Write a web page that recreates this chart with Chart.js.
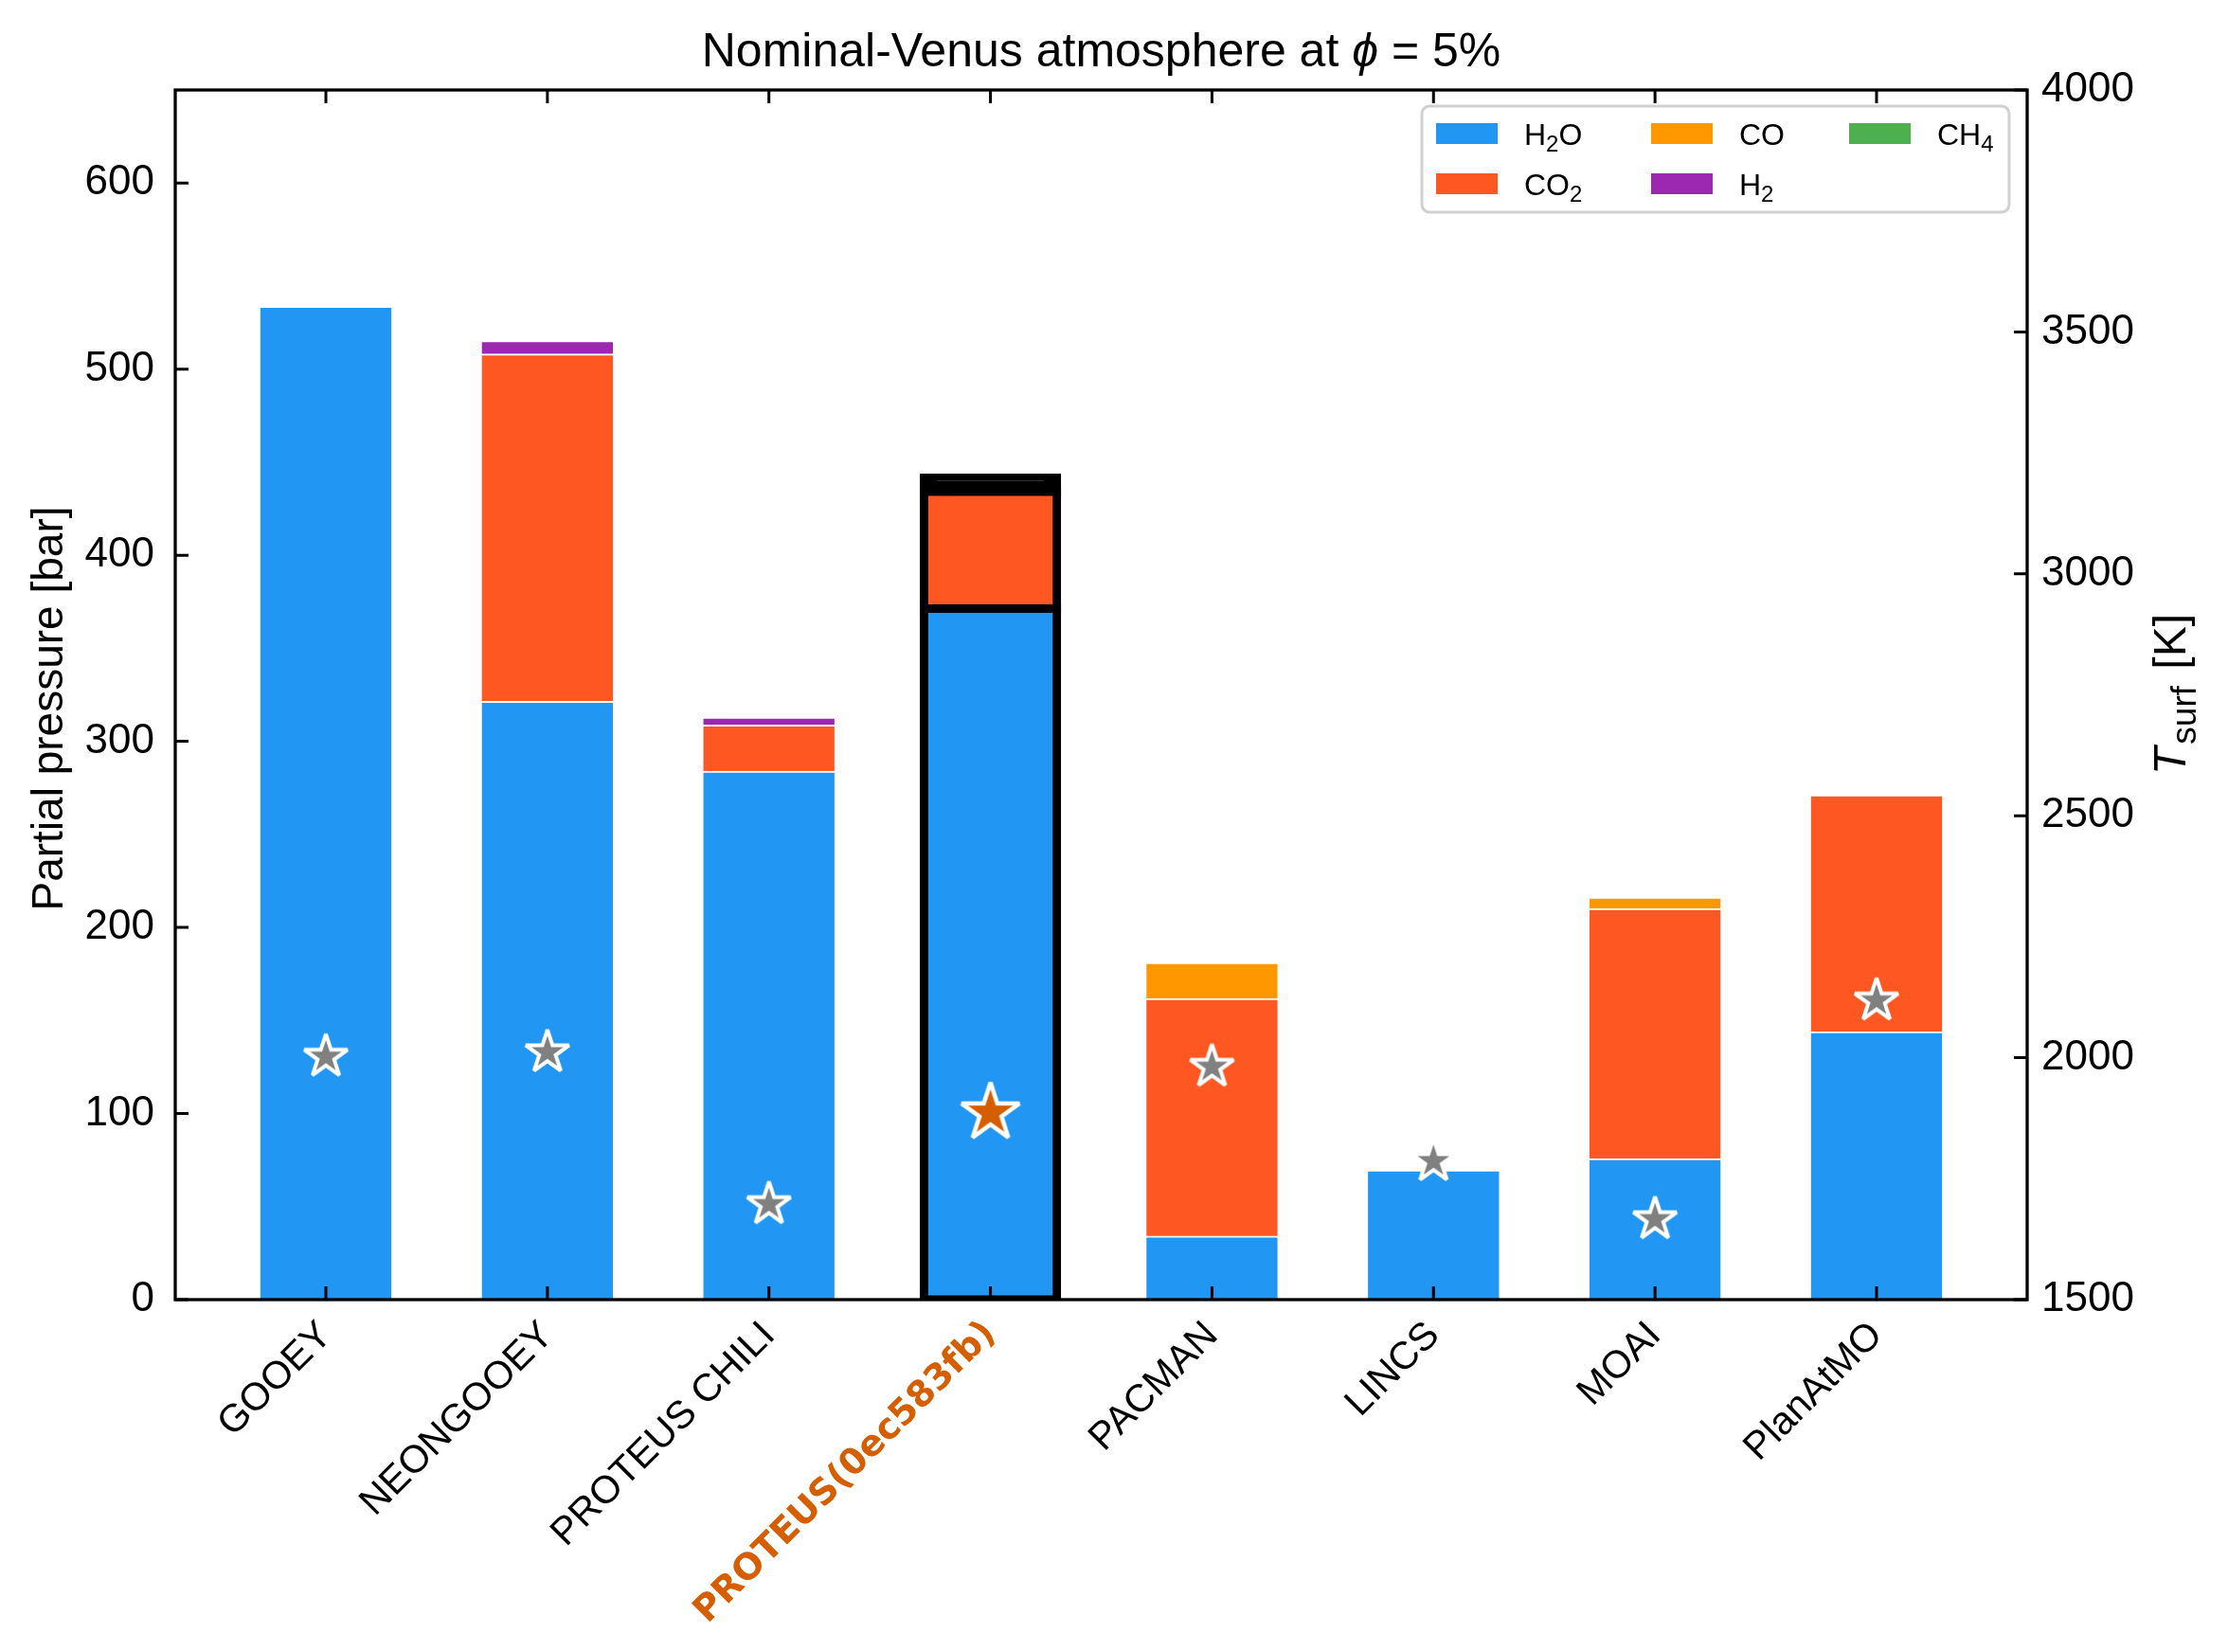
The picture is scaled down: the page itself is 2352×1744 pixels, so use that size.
<!DOCTYPE html>
<html>
<head>
<meta charset="utf-8">
<script src="https://cdn.jsdelivr.net/npm/chart.js@4.4.1/dist/chart.umd.min.js"></script>
<style>
  html, body { margin: 0; padding: 0; background: #fff; }
  #wrap { width: 2352px; height: 1744px; }
</style>
</head>
<body>
<div id="wrap"><canvas id="chart" width="2352" height="1744"></canvas></div>
<script>
// Models along the x axis
const models = ['GOOEY', 'NEONGOOEY', 'PROTEUS CHILI', 'PROTEUS(0ec583fb)', 'PACMAN', 'LINCS', 'MOAI', 'PlanAtMO'];
const highlight = 3; // PROTEUS(0ec583fb)

// Partial pressures [bar]
const h2o = [533.5, 321.2, 283.6, 371.3, 33.8, 69.4, 75.5, 143.7];
const co2 = [0, 186.7, 24.9, 62.9, 127.7, 0, 134.3, 127.2];
const co  = [0, 0, 0, 0, 19.3, 0, 6.1, 0];
const h2  = [0, 7.1, 4.1, 7.3, 0, 0, 0, 0];
const ch4 = [0, 0, 0, 0, 0, 0, 0, 0];

// Surface temperature [K]
const tsurf = [2002, 2011, 1697, 1886, 1981, 1786, 1666, 2118];

// Axis ticks
const pressureTicks = [0, 100, 200, 300, 400, 500, 600];
const tempTicks = [1500, 2000, 2500, 3000, 3500, 4000];

const species = ['H2O', 'CO2', 'CO', 'H2', 'CH4'];
const speciesColors = ['#2196F3', '#FF5722', '#FF9800', '#9C27B0', '#4CAF50'];
const seriesValues = [h2o, co2, co, h2, ch4];

const SANS = '"Liberation Sans", Arial, Helvetica, sans-serif';

// Star marker like matplotlib's '*'
function makeStar(radius, fill, edge, lw) {
  const pad = Math.ceil(lw) + 3;
  const size = Math.ceil(2 * (radius + pad));
  const c = document.createElement('canvas');
  c.width = size;
  c.height = size;
  const g = c.getContext('2d');
  const cx = size / 2, cy = size / 2;
  g.beginPath();
  for (let k = 0; k < 10; k++) {
    const r = k % 2 === 0 ? radius : radius * 0.381966;
    const a = -Math.PI / 2 + k * Math.PI / 5;
    const px = cx + r * Math.cos(a), py = cy + r * Math.sin(a);
    if (k === 0) g.moveTo(px, py); else g.lineTo(px, py);
  }
  g.closePath();
  g.fillStyle = fill;
  g.fill();
  g.lineWidth = lw;
  g.strokeStyle = edge;
  g.lineJoin = 'miter';
  g.miterLimit = 2;
  g.stroke();
  return c;
}
const grayStar = makeStar(24, '#808080', '#ffffff', 4);
const orangeStar = makeStar(32, '#D55E00', '#ffffff', 4.5);

// Text with italic / subscript runs
function richParts(text) {
  // chemical formula: digits become subscripts
  return text.match(/\d+|\D+/g).map(t => ({ t: t, sub: /\d/.test(t) }));
}
function drawRich(ctx, parts, x, y, size, align, subScale) {
  const ss = subScale || 0.72;
  const fontOf = p => (p.it ? 'italic ' : '') + Math.round(p.sub ? size * ss : size) + 'px ' + SANS;
  let total = 0;
  parts.forEach(p => { ctx.font = fontOf(p); p.w = ctx.measureText(p.t).width + (p.gap || 0); total += p.w; });
  let cx = align === 'center' ? x - total / 2 : x;
  ctx.textAlign = 'left';
  ctx.textBaseline = 'alphabetic';
  parts.forEach(p => {
    ctx.font = fontOf(p);
    ctx.fillText(p.t, cx, p.sub ? y + size * 0.22 : y);
    cx += p.w;
  });
}

const decorPlugin = {
  id: 'decor',
  afterDatasetsDraw(chart) {
    const { ctx, chartArea: a, scales } = chart;
    ctx.save();
    ctx.strokeStyle = '#000';
    ctx.lineWidth = 3;
    const tl = 14;
    ctx.beginPath();
    models.forEach((m, i) => {
      const px = scales.x.getPixelForValue(i);
      ctx.moveTo(px, a.bottom); ctx.lineTo(px, a.bottom - tl);
      ctx.moveTo(px, a.top); ctx.lineTo(px, a.top + tl);
    });
    pressureTicks.forEach(v => {
      const py = scales.y.getPixelForValue(v);
      ctx.moveTo(a.left, py); ctx.lineTo(a.left + tl, py);
    });
    tempTicks.forEach(v => {
      const py = scales.y2.getPixelForValue(v);
      ctx.moveTo(a.right, py); ctx.lineTo(a.right - tl, py);
    });
    ctx.stroke();
    ctx.lineWidth = 3.3;
    ctx.strokeRect(a.left, a.top, a.right - a.left, a.bottom - a.top);
    ctx.restore();
  },
  afterDraw(chart) {
    const { ctx, chartArea: a } = chart;
    ctx.save();
    ctx.fillStyle = '#000';
    // title
    drawRich(ctx, [{ t: 'Nominal-Venus atmosphere at ' }, { t: 'ϕ', it: true }, { t: ' = 5%' }],
      (a.left + a.right) / 2, 70, 50, 'center');
    // left axis title
    ctx.save();
    ctx.translate(66, 748);
    ctx.rotate(-Math.PI / 2);
    drawRich(ctx, [{ t: 'Partial pressure [bar]' }], 0, 0, 46, 'center');
    ctx.restore();
    // right axis title
    ctx.save();
    ctx.translate(2307, 733);
    ctx.rotate(-Math.PI / 2);
    drawRich(ctx, [{ t: 'T', it: true, gap: 3 }, { t: 'surf', sub: true, gap: 4 }, { t: ' [K]' }], 0, 0, 48, 'center', 0.78);
    ctx.restore();

    // legend, 3 columns filled column-wise
    const bx = 1501, by = 112, bw = 620, bh = 112;
    ctx.beginPath();
    ctx.roundRect(bx, by, bw, bh, 8);
    ctx.fillStyle = 'rgba(255,255,255,0.8)';
    ctx.fill();
    ctx.strokeStyle = '#d0d0d0';
    ctx.lineWidth = 3;
    ctx.stroke();
    const colX = [1516, 1743, 1952];
    const rowY = [130, 183];
    species.forEach((s, i) => {
      const col = Math.floor(i / 2), row = i % 2;
      ctx.fillStyle = speciesColors[i];
      ctx.fillRect(colX[col], rowY[row], 65, 22);
      ctx.fillStyle = '#000';
      drawRich(ctx, richParts(s), colX[col] + 93, rowY[row] + 23, 32, 'left', 0.75);
    });
    ctx.restore();
  }
};

// thin segments of the highlighted bar are swallowed by its thick outline
const swallowed = (c, k) => c.dataIndex === highlight && c.raw && c.raw.y > 0 && c.raw.y < 10;

const barDatasets = species.map((s, k) => ({
  type: 'bar',
  label: s,
  data: seriesValues[k].map((v, i) => ({ x: i, y: v })),
  backgroundColor: c => swallowed(c, k) ? '#000' : speciesColors[k],
  borderColor: c => c.dataIndex === highlight ? '#000' : '#fff',
  borderWidth: c => (c.raw && c.raw.y > 0) ? (c.dataIndex === highlight ? 9 : 2) : 0,
  borderSkipped: c => c.dataIndex === highlight ? false : 'start',
  inflateAmount: c => (c.raw && c.raw.y > 0) ? (c.dataIndex === highlight ? 4.5 : 1) : 0,
  barPercentage: 0.6,
  categoryPercentage: 1.0,
  yAxisID: 'y',
  order: 1
}));

const starDataset = {
  type: 'scatter',
  label: 'Tsurf',
  data: tsurf.map((t, i) => ({ x: i, y: t })),
  yAxisID: 'y2',
  pointStyle: c => c.dataIndex === highlight ? orangeStar : grayStar,
  pointRadius: 10,
  order: 0
};

new Chart(document.getElementById('chart'), {
  type: 'bar',
  data: { datasets: barDatasets.concat([starDataset]) },
  options: {
    responsive: false,
    animation: false,
    layout: { padding: { top: 95, left: 0, right: 0, bottom: 0 } },
    plugins: { legend: { display: false }, title: { display: false }, tooltip: { enabled: false } },
    scales: {
      x: {
        type: 'linear',
        min: -0.68,
        max: 7.68,
        stacked: true,
        offset: false,
        grid: { display: false, drawTicks: false },
        border: { display: false },
        afterBuildTicks: s => { s.ticks = models.map((m, i) => ({ value: i })); },
        afterFit: s => { s.height = 372; },
        ticks: {
          autoSkip: false,
          minRotation: 45,
          maxRotation: 45,
          padding: 14,
          callback: v => models[v],
          color: c => c.index === highlight ? '#D55E00' : '#000',
          font: c => c.index === highlight
            ? { family: '"DejaVu Sans", sans-serif', weight: 'bold', size: 38 }
            : { family: SANS, size: 41 }
        }
      },
      y: {
        type: 'linear',
        position: 'left',
        min: 0,
        max: 650,
        stacked: true,
        grid: { display: false, drawTicks: false },
        border: { display: false },
        afterBuildTicks: s => { s.ticks = pressureTicks.map(v => ({ value: v })); },
        afterFit: s => { s.width = 185; },
        ticks: { padding: 22, color: '#000', font: { family: SANS, size: 44 }, callback: v => String(v) }
      },
      y2: {
        type: 'linear',
        position: 'right',
        min: 1500,
        max: 4000,
        grid: { display: false, drawTicks: false },
        border: { display: false },
        afterBuildTicks: s => { s.ticks = tempTicks.map(v => ({ value: v })); },
        afterFit: s => { s.width = 212; },
        ticks: { padding: 15, color: '#000', font: { family: SANS, size: 44 }, callback: v => String(v) }
      }
    }
  },
  plugins: [decorPlugin]
});
</script>
</body>
</html>
